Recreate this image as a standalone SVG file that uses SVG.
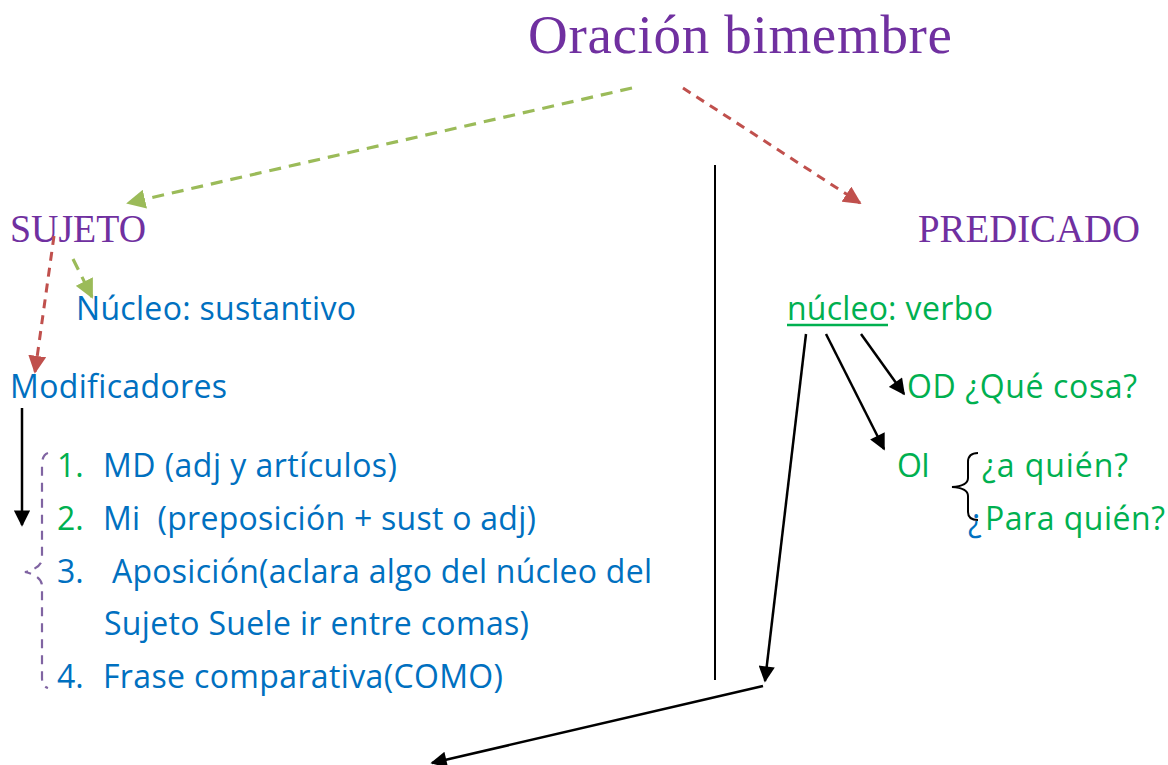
<svg xmlns="http://www.w3.org/2000/svg" width="1168" height="765" viewBox="0 0 1168 765">
<style>
.t{font-family:"Liberation Serif","DejaVu Serif",serif;fill:#7030A0}
.s{font-family:"Open Sans","Liberation Sans",sans-serif;font-size:32px;font-variant-ligatures:none}
.b{fill:#0070C0}.g{fill:#00B050}
.k{stroke:#000;stroke-width:2.5;fill:none}
.dg{stroke:#9BBB59;stroke-width:3.2;stroke-dasharray:12 8;fill:none}
.dr{stroke:#C0504D;stroke-width:3;stroke-dasharray:9 7;fill:none}
</style>
<defs>
<marker id="ak" viewBox="0 0 10 10" refX="9" refY="5" markerWidth="7" markerHeight="6.5" markerUnits="strokeWidth" orient="auto"><path d="M0,0L10,5L0,10z" fill="#000"/></marker>
<marker id="ag" viewBox="0 0 10 10" refX="9" refY="5" markerWidth="6" markerHeight="6" markerUnits="strokeWidth" orient="auto"><path d="M0,0L10,5L0,10z" fill="#9BBB59"/></marker>
<marker id="ar" viewBox="0 0 10 10" refX="9" refY="5" markerWidth="6" markerHeight="6" markerUnits="strokeWidth" orient="auto"><path d="M0,0L10,5L0,10z" fill="#C0504D"/></marker>
</defs>
<g id="title"><text class="t" x="528" y="53" font-size="55" textLength="424">Oración bimembre</text></g>
<g id="sujeto"><text class="t" x="10" y="242" font-size="41" textLength="136" lengthAdjust="spacingAndGlyphs">SUJETO</text></g>
<g id="predicado"><text class="t" x="918" y="242" font-size="41" textLength="222" lengthAdjust="spacingAndGlyphs">PREDICADO</text></g>
<g id="nucleo-sust"><text class="s b" x="76" y="320" textLength="280">Núcleo: sustantivo</text></g>
<g id="modificadores"><text class="s b" x="10" y="398" textLength="217">Modificadores</text></g>
<g id="lista">
<text class="s g" x="57" y="477">1.</text><text class="s b" x="103" y="477" textLength="294">MD (adj y artículos)</text>
<text class="s g" x="57" y="530">2.</text><text class="s b" x="103" y="530" textLength="433" xml:space="preserve">Mi  (preposición + sust o adj)</text>
<text class="s b" x="57" y="583">3.</text><text class="s b" x="112" y="583" textLength="540">Aposición(aclara algo del núcleo del</text>
<text class="s b" x="104" y="635" textLength="425">Sujeto Suele ir entre comas)</text>
<text class="s b" x="57" y="688">4.</text><text class="s b" x="103" y="688" textLength="400">Frase comparativa(COMO)</text>
</g>
<g id="nucleo-verbo">
<text class="s g" x="787" y="320" textLength="101">núcleo</text>
<text class="s g" x="888" y="320" textLength="105">: verbo</text>
<line x1="787" y1="325" x2="888" y2="325" stroke="#00B050" stroke-width="2.5"/></g>
<g id="od"><text class="s g" x="907" y="398" textLength="230">OD ¿Qué cosa?</text></g>
<g id="oi"><text class="s g" x="897" y="477" textLength="33">OI</text>
<path d="M978,453 Q968,453 968,462 L968,478 Q968,486 952,487 Q968,488 968,496 L968,512 Q968,520 978,520" stroke="#000" stroke-width="2" fill="none"/>
<text class="s g" x="982" y="477" textLength="146">¿a quién?</text>
<text class="s b" x="968" y="532">¿</text>
<text class="s g" x="985" y="530" textLength="180">Para quién?</text></g>
<g id="connectors">
<line class="dg" x1="632" y1="88" x2="128" y2="203" marker-end="url(#ag)"/>
<line class="dr" x1="683" y1="88" x2="860" y2="203" marker-end="url(#ar)"/>
<line class="dg" x1="73" y1="259" x2="92" y2="297" marker-end="url(#ag)"/>
<line class="dr" x1="54" y1="236" x2="35" y2="372" marker-end="url(#ar)"/>
<line x1="715" y1="165" x2="715" y2="680" stroke="#000" stroke-width="2"/>
<line class="k" x1="22" y1="408" x2="22" y2="525" marker-end="url(#ak)"/>
<path d="M48,453 Q42,455 42,465 L42,558 Q42,568 25,572 Q42,576 42,586 L42,678 Q42,686 48,688" stroke="#8064A2" stroke-width="2.2" stroke-dasharray="9 7" fill="none"/>
<line class="k" x1="806" y1="334" x2="765" y2="681" marker-end="url(#ak)"/>
<line class="k" x1="826" y1="334" x2="884" y2="449" marker-end="url(#ak)"/>
<line class="k" x1="861" y1="334" x2="904" y2="394" marker-end="url(#ak)"/>
<line class="k" x1="763" y1="686" x2="432" y2="763" marker-end="url(#ak)"/>
</g>
</svg>
